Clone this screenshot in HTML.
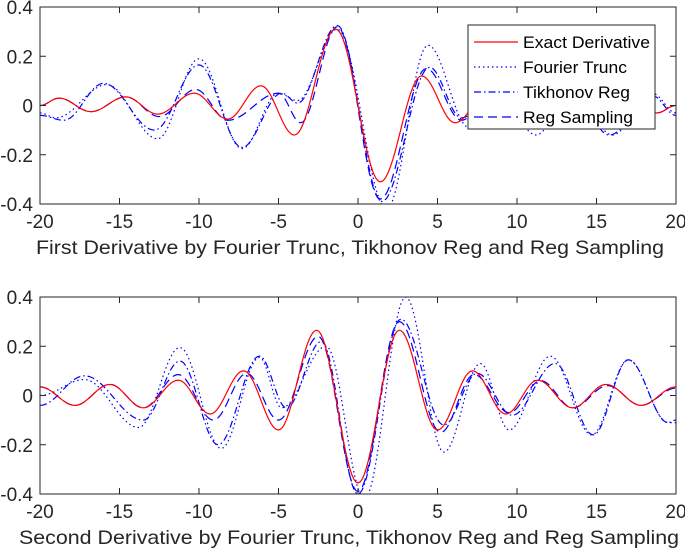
<!DOCTYPE html>
<html><head><meta charset="utf-8"><style>
html,body{margin:0;padding:0;background:#fff;}
svg{display:block;font-family:"Liberation Sans",sans-serif;}
</style></head><body>
<svg id="chart" width="685" height="557"></svg>
<script>
// Top panel data (extrema x, y)
const topExactX=[-20,-18.8,-16.8,-14.6,-12.6,-10.3,-8.2,-6.1,-4,-1.4,1.4,4,6.1,8.2,10.3,12.6,14.6,16.8,18.8,20];
const topExactY=[0,0.03,-0.025,0.035,-0.035,0.05,-0.055,0.08,-0.12,0.31,-0.31,0.12,-0.07,0.055,-0.05,0.035,-0.035,0.025,-0.03,0];
const topFourierX=[-20,-19,-15.8,-12.6,-10,-7.3,-5,-3.8,-1.3,1.8,4.4,7,8.8,11.2,13.5,16,18.5,20];
const topFourierY=[-0.03,-0.05,0.085,-0.135,0.19,-0.175,0.05,0.02,0.31,-0.42,0.245,-0.09,0.06,-0.12,0.07,-0.12,0.05,-0.03];
const topTikhX=[-20,-18.5,-16,-12.8,-10,-7.3,-4.8,-3.8,-1.3,1.5,4.5,6.5,8.8,11,13.5,15.8,18.5,20];
const topTikhY=[-0.04,-0.06,0.09,-0.1,0.165,-0.17,0.05,0.01,0.325,-0.39,0.155,-0.05,0.06,-0.09,0.06,-0.12,0.04,-0.04];
const topRegX=[-20,-18.8,-16.8,-14.6,-12.5,-10.2,-8.2,-5,-3.6,-1.3,1.4,4.3,6.5,8.5,10.5,12.7,14.7,16.8,18.8,20];
const topRegY=[0,0.03,-0.025,0.035,-0.045,0.065,-0.06,0.05,-0.07,0.32,-0.38,0.15,-0.06,0.05,-0.045,0.035,-0.035,0.025,-0.03,0];
// Bottom panel data
const botExactX=[-20,-17.8,-15.6,-13.5,-11.3,-9.3,-7.2,-5,-2.6,0,2.6,5,7.2,9.3,11.3,13.5,15.6,17.8,20];
const botExactY=[0.035,-0.04,0.045,-0.05,0.062,-0.075,0.1,-0.14,0.265,-0.355,0.265,-0.14,0.1,-0.075,0.062,-0.05,0.045,-0.04,0.035];
const botFourierX=[-20,-17.2,-13.8,-11.2,-8.6,-6.2,-4.8,-2,0.4,3,5.4,7.7,9.5,12.1,14.7,17,19.5,20];
const botFourierY=[0,0.065,-0.13,0.195,-0.215,0.155,-0.05,0.2,-0.42,0.4,-0.23,0.13,-0.14,0.16,-0.16,0.145,-0.11,-0.11];
const botTikhX=[-20,-17.2,-13.5,-11.2,-8.8,-6.2,-4.5,-2.3,0,2.7,5.4,7.5,9.7,12.4,14.8,17,19.5,20];
const botTikhY=[-0.04,0.08,-0.1,0.14,-0.2,0.16,-0.05,0.22,-0.4,0.31,-0.12,0.09,-0.08,0.13,-0.16,0.145,-0.11,-0.1];
const botRegX=[-20,-17.8,-15.6,-13.5,-11.3,-9.1,-7,-5,-2.5,0,2.6,5.2,7.3,9.5,11.5,13.5,15.7,17.8,20];
const botRegY=[0.035,-0.04,0.045,-0.05,0.085,-0.1,0.09,-0.1,0.24,-0.39,0.3,-0.15,0.085,-0.07,0.06,-0.05,0.04,-0.04,0.03];
const xTicks=[-20,-15,-10,-5,0,5,10,15,20];
const yTicks=[-0.4,-0.2,0,0.2,0.4];
const yTickLabels=["-0.4","-0.2","0","0.2","0.4"];

const NS="http://www.w3.org/2000/svg";
const svg=document.getElementById('chart');
function mk(tag,attrs,parent){const e=document.createElementNS(NS,tag);for(const k in attrs)e.setAttribute(k,attrs[k]);(parent||svg).appendChild(e);return e;}
const L=40,R=676;
function panel(top,bot,series,title,titleLen,titleCx,pname,clipId){
  const xs=v=>L+(v+20)/40*(R-L);
  const ys=v=>top+(0.4-v)/0.8*(bot-top);
  const g=mk('g',{});
  
  
  const defs=mk('defs',{},g);
  const cp=mk('clipPath',{id:clipId},defs);
  mk('rect',{x:L,y:top,width:R-L,height:bot-top},cp);
  series.forEach(s=>{
    let d='';
    for(let i=0;i<s.x.length-1;i++){
      const x0=s.x[i],x1=s.x[i+1],y0=s.y[i],y1=s.y[i+1];
      const n=20;
      for(let k=(i==0?0:1);k<=n;k++){
        const t=k/n;const xv=x0+(x1-x0)*t;const yv=y0+(y1-y0)*(1-Math.cos(Math.PI*t))/2;
        d+=(d?'L':'M')+xs(xv).toFixed(2)+','+ys(yv).toFixed(2);
      }
    }
    const p=mk('path',{d:d,fill:'none',stroke:s.c,'stroke-width':1.2,'clip-path':'url(#'+clipId+')'},g);
    if(s.dash)p.setAttribute('stroke-dasharray',s.dash);
    
    
  });
  const fr=mk('rect',{x:L,y:top,width:R-L,height:bot-top,fill:'none',stroke:'#262626','stroke-width':1},g);
  
  
  xTicks.forEach(v=>{
    const X=xs(v);
    mk('line',{x1:X,x2:X,y1:bot,y2:bot-6,stroke:'#262626'},g);
    mk('line',{x1:X,x2:X,y1:top,y2:top+6,stroke:'#262626'},g);
    const t=mk('text',{x:X,y:bot+24,'text-anchor':'middle','font-size':19,fill:'#262626'},g);
    t.textContent=String(v);
    
    
  });
  yTicks.forEach((v,i)=>{
    const Y=ys(v);
    mk('line',{x1:L,x2:L+6,y1:Y,y2:Y,stroke:'#262626'},g);
    mk('line',{x1:R,x2:R-6,y1:Y,y2:Y,stroke:'#262626'},g);
    const t=mk('text',{x:L-7,y:Y+7,'text-anchor':'end','font-size':19,fill:'#262626'},g);
    t.textContent=yTickLabels[i];
    
    
  });
  const tt=mk('text',{x:titleCx,y:bot+50,'text-anchor':'middle','font-size':19.5,fill:'#262626',textLength:titleLen,lengthAdjust:'spacingAndGlyphs'},g);
  tt.textContent=title;
  
  
}
panel(7,204,[
 {x:topFourierX,y:topFourierY,c:'#0000ff',dash:'1.5,3',name:'fourier-trunc-line'},
 {x:topTikhX,y:topTikhY,c:'#0000ff',dash:'7,3,1.5,3',name:'tikhonov-reg-line'},
 {x:topRegX,y:topRegY,c:'#0000ff',dash:'9,5',name:'reg-sampling-line'},
 {x:topExactX,y:topExactY,c:'#ff0000',dash:null,name:'exact-derivative-line'}
],'First Derivative by Fourier Trunc, Tikhonov Reg and Reg Sampling',628,350,'top-panel','clipTop');
panel(297,494,[
 {x:botFourierX,y:botFourierY,c:'#0000ff',dash:'1.5,3',name:'fourier-trunc-line'},
 {x:botTikhX,y:botTikhY,c:'#0000ff',dash:'7,3,1.5,3',name:'tikhonov-reg-line'},
 {x:botRegX,y:botRegY,c:'#0000ff',dash:'9,5',name:'reg-sampling-line'},
 {x:botExactX,y:botExactY,c:'#ff0000',dash:null,name:'exact-derivative-line'}
],'Second Derivative by Fourier Trunc, Tikhonov Reg and Reg Sampling',660,349,'bottom-panel','clipBot');
const lg=mk('g',{});


mk('rect',{x:468,y:25,width:187,height:104,fill:'#fff',stroke:'#262626','stroke-width':1},lg);
const entries=[['Exact Derivative','#ff0000',null,127],['Fourier Trunc','#0000ff','1.5,3',104],['Tikhonov Reg','#0000ff','7,3,1.5,3',107],['Reg Sampling','#0000ff','9,5',110]];
entries.forEach((e,i)=>{
  const y=42+i*25;
  const eg=mk('g',{},lg);
  
  
  const ln=mk('line',{x1:474,x2:518,y1:y,y2:y,stroke:e[1],'stroke-width':1.2},eg);
  if(e[2])ln.setAttribute('stroke-dasharray',e[2]);
  const t=mk('text',{x:523,y:y+6,'font-size':16.5,fill:'#000',textLength:e[3],lengthAdjust:'spacingAndGlyphs'},eg);
  t.textContent=e[0];
});
</script>
</body></html>
